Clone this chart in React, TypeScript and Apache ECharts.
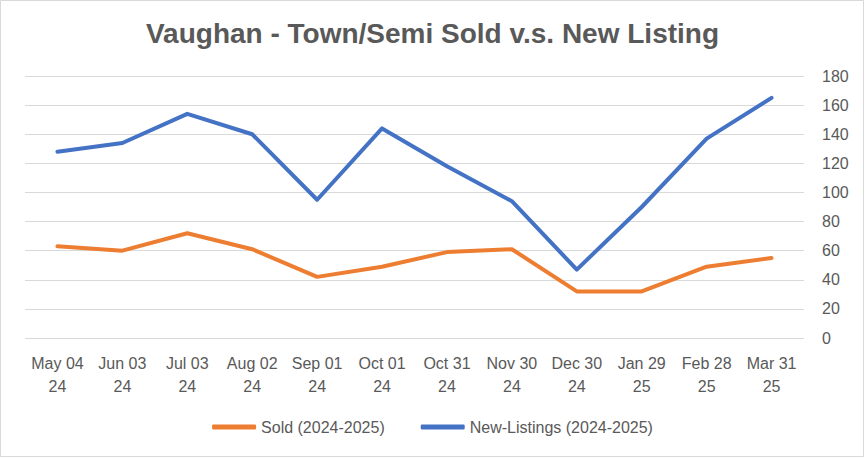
import React, { useEffect, useRef } from "react";
import * as echarts from "echarts";

const categories = [
  "May 04\n24", "Jun 03\n24", "Jul 03\n24", "Aug 02\n24", "Sep 01\n24", "Oct 01\n24",
  "Oct 31\n24", "Nov 30\n24", "Dec 30\n24", "Jan 29\n25", "Feb 28\n25", "Mar 31\n25",
];
const soldValues = [63, 60, 72, 61, 42, 49, 59, 61, 32, 32, 49, 55];
const newListingValues = [128, 134, 154, 140, 95, 144, 118, 94, 47, 90, 137, 165];
const yTicks = { min: 0, max: 180, interval: 20 };

export default function App() {
  const ref = useRef<HTMLDivElement>(null);
  useEffect(() => {
    document.body.style.margin = "0";
    const chart = echarts.init(ref.current!, null, { renderer: "svg" });
    const font = "'Liberation Sans', Arial, sans-serif";
    chart.setOption({
      animation: false,
      backgroundColor: "#ffffff",
      title: {
        text: "Vaughan - Town/Semi Sold v.s. New Listing",
        left: "center",
        top: 14,
        textStyle: { fontFamily: font, fontSize: 28, fontWeight: "bold", color: "#595959" },
      },
      graphic: [
        {
          type: "rect",
          shape: { x: 0.5, y: 0.5, width: 863, height: 456 },
          style: { fill: "none", stroke: "#d9d9d9", lineWidth: 1 },
          silent: true,
        },
      ],
      grid: { left: 25, right: 61, top: 76, bottom: 120 },
      legend: {
        bottom: 18,
        left: "center",
        itemWidth: 44,
        itemHeight: 5,
        itemGap: 36,
        icon: "roundRect",
        textStyle: { fontFamily: font, fontSize: 16, color: "#595959" },
        data: ["Sold (2024-2025)", "New-Listings (2024-2025)"],
      },
      xAxis: {
        type: "category",
        data: categories,
        boundaryGap: true,
        axisLine: { show: false },
        axisTick: { show: false },
        axisLabel: {
          fontFamily: font,
          fontSize: 16,
          color: "#595959",
          lineHeight: 23,
          margin: 14,
          interval: 0,
        },
      },
      yAxis: {
        type: "value",
        position: "right",
        min: yTicks.min,
        max: yTicks.max,
        interval: yTicks.interval,
        axisLine: { show: false },
        axisTick: { show: false },
        splitLine: { lineStyle: { color: "#d9d9d9", width: 1 } },
        axisLabel: { fontFamily: font, fontSize: 16, color: "#595959", margin: 18 },
      },
      series: [
        {
          name: "Sold (2024-2025)",
          type: "line",
          data: soldValues,
          symbol: "none",
          lineStyle: { color: "#ED7D31", width: 4, cap: "round", join: "round" },
          itemStyle: { color: "#ED7D31" },
        },
        {
          name: "New-Listings (2024-2025)",
          type: "line",
          data: newListingValues,
          symbol: "none",
          lineStyle: { color: "#4472C4", width: 4, cap: "round", join: "round" },
          itemStyle: { color: "#4472C4" },
        },
      ],
    });
    return () => chart.dispose();
  }, []);
  return <div ref={ref} style={{ width: 865, height: 458 }} />;
}
